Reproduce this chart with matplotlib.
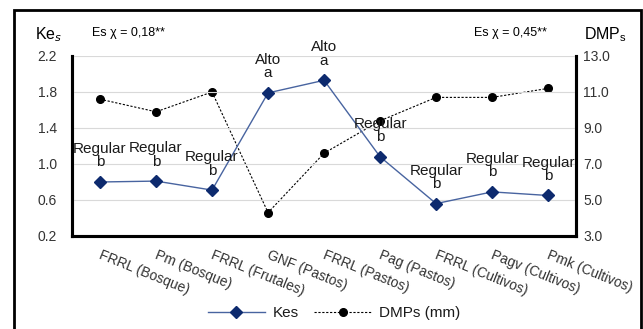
import numpy as np
import matplotlib
matplotlib.use("Agg")
from matplotlib import pyplot as plt
from matplotlib.patches import Rectangle
from matplotlib.transforms import ScaledTranslation

plt.rcParams['font.family'] = ['Liberation Sans', 'DejaVu Sans']

categories = ['FRRL (Bosque)', 'Pm (Bosque)', 'FRRL (Frutales)', 'GNF (Pastos)',
              'FRRL (Pastos)', 'Pag (Pastos)', 'FRRL (Cultivos)', 'Pagv (Cultivos)',
              'Pmk (Cultivos)']
kes = [0.80, 0.81, 0.71, 1.79, 1.93, 1.08, 0.56, 0.69, 0.65]
dmps = [10.6, 9.9, 11.0, 4.3, 7.6, 9.4, 10.7, 10.7, 11.2]
clase = ['Regular', 'Regular', 'Regular', 'Alto', 'Alto', 'Regular', 'Regular', 'Regular', 'Regular']
letra = ['b', 'b', 'b', 'a', 'a', 'b', 'b', 'b', 'b']

kes_ticks = [0.2, 0.6, 1.0, 1.4, 1.8, 2.2]
dmp_ticks = [3.0, 5.0, 7.0, 9.0, 11.0, 13.0]

fig = plt.figure(figsize=(6.43, 3.29), dpi=100)
ax = fig.add_axes([0.112, 0.2827, 0.784, 0.5471])
ax2 = ax.twinx()

x = np.arange(len(categories))

# Kes
ax.plot(x, kes, color='#4864a0', lw=1.0, marker='D', markersize=6,
        markerfacecolor='#0d2a6e', markeredgecolor='#0d2a6e', zorder=5, label='Kes')
for xi, yi, c, l in zip(x, kes, clase, letra):
    ax.annotate(f'{c}\n{l}', (xi, yi), xytext=(0, 9), textcoords='offset points',
                ha='center', va='bottom', fontsize=11, linespacing=0.95,
                color='#1a1a1a', zorder=6)

# DMPs
ax2.plot(x, dmps, color='black', lw=0.8, ls=(0, (2, 1.5)), marker='o', markersize=5.5,
         markerfacecolor='black', label='DMPs (mm)', zorder=4)

ax.set_xlim(-0.5, len(categories) - 0.5)
ax.set_ylim(0.2, 2.2)
ax2.set_ylim(3.0, 13.0)
ax.set_yticks(kes_ticks)
ax.set_yticklabels([f'{v:.1f}' for v in kes_ticks])
ax2.set_yticks(dmp_ticks)
ax2.set_yticklabels([f'{v:.1f}' for v in dmp_ticks])

ax.grid(axis='y', color='#d9d9d9', lw=0.8)
ax.set_axisbelow(True)
ax.set_zorder(ax2.get_zorder() + 1)
ax.patch.set_visible(False)

for a in (ax, ax2):
    for s in ('left', 'bottom', 'right'):
        a.spines[s].set_linewidth(2.2)
    a.spines['top'].set_visible(False)

ax.tick_params(axis='y', length=0, pad=11, labelsize=10, labelcolor='#333333')
ax2.tick_params(axis='y', length=0, pad=5, labelsize=10, labelcolor='#333333')
ax.tick_params(axis='x', length=0, labelsize=10, labelcolor='#333333')
ax.set_xticks(x)
ax.set_xticklabels(categories, rotation=-22, ha='left', va='top', rotation_mode='anchor')
for lab in ax.get_xticklabels():
    lab.set_transform(lab.get_transform() + ScaledTranslation(0.02, -0.07, fig.dpi_scale_trans))

# axis titles and annotations
fig.text(0.055, 0.895, r'Ke$_{\mathit{s}}$', fontsize=11.5, ha='left', va='center')
fig.text(0.909, 0.895, r'DMP$_{\mathregular{s}}$', fontsize=11.5, ha='left', va='center')
fig.text(0.143, 0.900, 'Es χ = 0,18**', fontsize=9, ha='left', va='center')
fig.text(0.737, 0.900, 'Es χ = 0,45**', fontsize=9, ha='left', va='center')

# legend
h1, l1 = ax.get_legend_handles_labels()
h2, l2 = ax2.get_legend_handles_labels()
fig.legend(h1 + h2, l1 + l2, loc='center', bbox_to_anchor=(0.52, 0.048), ncol=2,
           frameon=False, fontsize=11, handlelength=3.7, columnspacing=1.0,
           handletextpad=0.55, labelcolor='#1a1a1a')

# outer chart border
fig.patches.append(Rectangle((14 / 643, -0.05), (641 - 14) / 643, 1.05 - 10 / 329,
                             transform=fig.transFigure, fill=False, lw=2, edgecolor='black'))

fig.savefig('out.png', dpi=100)
